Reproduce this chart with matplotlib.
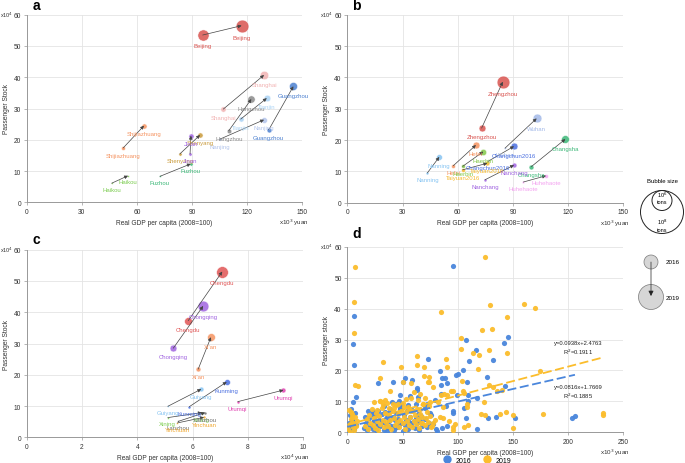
import numpy as np
import matplotlib
matplotlib.use('Agg')
import matplotlib.pyplot as plt
from matplotlib.patches import Circle
from matplotlib.lines import Line2D

plt.rcParams['font.family'] = ['Liberation Sans', 'DejaVu Sans']

# =========================================================
# data: x = real GDP per capita, y = passenger stock (x10^4), f = freight (bubble size)
# =========================================================
cities_a = ['Beijing', 'Shanghai', 'Guangzhou', 'Hangzhou', 'Tianjin', 'Nanjing',
            'Shijiazhuang', 'Shenyang', 'Jinan', 'Fuzhou', 'Haikou']
colors_a = ['#d9534f', '#f2b3b3', '#4a7fcf', '#8a8a8a', '#a9d3f5', '#b3c5ec',
            '#f59360', '#c99a3a', '#a064e0', '#3cb878', '#7ccc50']
x16_a = [95.9, 107.1, 131.9, 110.1, 116.6, 105.3, 52.6, 83.5, 89.0, 72.6, 46.3]
y16_a = [53.5, 29.8, 23.2, 22.9, 26.6, 20.2, 17.4, 15.5, 15.5, 8.3, 6.1]
x19_a = [117.1, 129.3, 145.3, 122.4, 130.8, 129.3, 63.9, 94.4, 89.5, 89.4, 55.2]
y19_a = [56.5, 40.7, 37.1, 33.0, 33.3, 26.4, 24.5, 21.5, 21.3, 12.3, 8.5]
f16_a = [130, 30, 25, 22, 28, 11, 16, 11, 11, 4, 3]
f19_a = [170, 75, 68, 56, 45, 36, 28, 28, 28, 11, 4]

cities_b = ['Zhengzhou', 'Wuhan', 'Changsha', 'Changchun2016', 'Hefei', 'Haerbin',
            'Taiyuan2016', 'Nanchang', 'Nanning', 'Huhehaote']
colors_b = ['#d9534f', '#a3b9e8', '#3cb878', '#4a6fe0', '#f59360', '#84c84a',
            '#f5b82c', '#a064e0', '#86c4f2', '#f3a3f0']
x16_b = [73.0, 85.7, 100.0, 76.5, 57.6, 62.7, 62.7, 74.8, 43.5, 95.7]
y16_b = [23.8, 17.4, 11.5, 13.2, 11.8, 11.6, 10.5, 7.3, 9.5, 6.6]
x19_b = [84.5, 102.9, 118.5, 90.6, 69.9, 73.9, 76.1, 90.6, 50.0, 108.0]
y19_b = [38.6, 26.9, 20.3, 18.0, 18.4, 16.3, 12.6, 12.0, 14.6, 8.6]
f16_b = [49, 4, 25, 4, 16, 16, 16, 9, 9, 6]
f19_b = [169, 81, 64, 49, 49, 42, 25, 25, 36, 16]

cities_c = ['Chengdu', 'Chongqing', "Xi'an", 'Kunming', 'Guiyang', 'Urumqi',
            'Xining', 'Lanzhou', 'Yinchuan']
colors_c = ['#e05555', '#a064e0', '#f59360', '#4a6fe0', '#86c4f2', '#e040b0',
            '#7ccc50', '#707070', '#f0a830']
x16_c = [5.84, 5.30, 6.20, 5.88, 5.10, 7.63, 5.10, 5.48, 5.45]
y16_c = [37.3, 28.5, 21.8, 9.8, 9.9, 11.4, 6.3, 5.1, 4.6]
x19_c = [7.07, 6.38, 6.66, 7.23, 6.31, 9.28, 6.33, 6.45, 6.41]
y19_c = [53.0, 42.0, 32.0, 17.7, 15.4, 15.1, 7.9, 7.9, 6.4]
f16_c = [64, 49, 25, 9, 4, 9, 4, 4, 4]
f19_c = [144, 121, 64, 36, 25, 25, 9, 9, 9]

# panel d: all cities
x_2016 = [95.4, 6.0, 5.4, 6.3, 7.5, 5.4, 145.8, 141.9, 107.2, 116.5, 109.9, 131.6, 72.8,
          105.1, 83.9, 100.5, 98.4, 126.8, 88.5, 86.0, 90.0, 52.5, 58.9, 41.7, 50.7, 27.8,
          143.1, 84.5, 108.7, 62.8, 62.8, 47.4, 56.8, 64.0, 84.8, 99.0, 109.3, 117.4, 109.6,
          105.4, 107.5, 117.1, 127.7, 134.3, 151.6, 203.8, 206.2, 90.0, 85.4, 81.5, 96.0,
          95.7, 89.4, 79.7, 71.8, 74.9, 16.0, 46.8, 48.3, 40.5, 23.5, 24.5,
          1, 2, 3, 4, 2.5, 5, 6, 7, 8, 3.5, 1.5, 4.5,
          15, 17, 18, 20, 21, 22, 23, 24, 25, 26, 27, 28, 29, 30, 31, 32, 33, 34, 35, 36,
          37, 38, 39, 40, 41, 42, 43, 44, 45, 46, 47, 48, 49, 50, 51, 52, 53, 54, 55, 56,
          57, 58, 59, 60, 61, 62, 63, 64, 65, 66, 67, 68, 70, 72, 74, 76, 78, 80,
          19, 33, 44, 26, 37, 55, 62, 48, 57, 42, 30, 65, 70, 28, 36]
y_2016 = [53.7, 37.5, 28.6, 21.9, 11.3, 9.7, 30.7, 29.0, 30.0, 26.7, 23.2, 23.4, 23.8,
          20.3, 19.8, 18.9, 18.6, 18.0, 17.5, 17.5, 15.8, 17.6, 16.8, 16.3, 16.1, 15.8,
          15.0, 15.3, 16.3, 14.4, 13.6, 12.1, 11.6, 11.4, 12.4, 11.9, 12.1, 11.1, 10.2,
          7.8, 4.5, 1.1, 4.7, 4.9, 4.5, 4.5, 5.2, 2.0, 1.4, 0.5, 7.0,
          6.1, 8.6, 10.6, 9.2, 6.4, 5.1, 10.0, 9.2, 9.7, 6.7, 6.5,
          0.5, 1.2, 2.5, 4.0, 5.5, 3.2, 1.0, 6.2, 2.2, 7.5, 3.0, 0.3,
          1.5, 3.0, 0.8, 4.5, 2.1, 6.0, 1.2, 3.5, 5.2, 0.6, 2.8, 7.0, 4.1, 1.9, 5.8, 3.3,
          0.9, 6.6, 2.4, 4.8, 1.4, 3.7, 7.4, 2.0, 5.1, 0.7, 3.9, 6.2, 1.6, 4.4, 2.7, 8.0,
          3.1, 0.4, 5.6, 2.2, 4.0, 6.9, 1.1, 3.4, 5.0, 2.5, 7.2, 3.8, 1.3, 4.6, 2.9, 6.0,
          0.8, 3.6, 5.4, 2.1, 4.2, 1.7, 3.0, 5.5, 2.6, 1.0,
          6.8, 8.5, 9.2, 5.9, 6.4, 8.8, 9.0, 7.6, 3.0, 2.0, 3.5, 4.9, 7.9, 2.2, 0.3]
x_2019 = [6.9, 125.0, 6.3, 6.0, 84.5, 129.2, 160.3, 170.0, 144.9, 102.9, 130.7, 122.3,
          102.6, 114.1, 119.5, 144.3, 128.6, 63.4, 89.4, 32.6, 48.3, 62.8, 69.1, 118.6,
          174.5, 90.6, 74.0, 29.6, 69.7, 72.8, 74.0, 77.9, 50.4, 6.9, 10.0, 93.6, 96.0,
          103.9, 104.5, 105.7, 128.6, 132.0, 135.2, 140.4, 108.0, 108.0, 124.1, 120.8,
          124.7, 138.3, 143.7, 150.3, 177.5, 231.9, 231.9, 150.3, 106.0, 109.6, 95.4, 95.4,
          57.4, 38.6, 29.9, 31.7, 32.3, 41.7, 51.3, 56.2, 59.8, 65.8, 68.8, 74.9, 86.9,
          90.6, 83.9, 75.8, 77.3, 67.3,
          1, 2, 3, 4, 5, 1.5, 6, 7, 8, 9, 2.5, 4.5, 3, 5.5,
          16, 18, 19, 20, 21, 22, 23, 24, 25, 26, 27, 28, 29, 30, 31, 32, 33, 34, 35, 36,
          37, 38, 39, 40, 41, 42, 43, 44, 45, 46, 47, 48, 49, 50, 51, 52, 53, 54, 55, 56,
          57, 58, 59, 60, 61, 62, 63, 64, 65, 66, 67, 68, 69, 70, 71, 72, 73, 75, 77, 79,
          24, 30, 34, 42, 50, 58, 64, 27, 38, 46, 53, 66, 70, 74, 60, 85, 88, 82, 87, 92, 98]
y_2019 = [53.3, 56.8, 42.1, 32.1, 38.8, 41.0, 41.6, 40.3, 37.4, 30.6, 33.4, 33.1,
          26.8, 25.5, 25.0, 25.5, 26.6, 24.8, 23.8, 22.6, 21.2, 21.8, 21.0, 20.4,
          19.9, 21.0, 18.0, 17.6, 18.2, 16.3, 16.1, 14.6, 16.2, 15.4, 15.0, 13.5, 13.3,
          16.7, 13.5, 12.7, 15.2, 14.6, 13.3, 13.7, 9.2, 8.3, 9.9, 5.9,
          5.6, 5.9, 6.7, 5.6, 5.8, 6.4, 5.5, 1.4, 1.6, 2.4, 1.6, 0.9,
          16.0, 13.2, 10.2, 9.7, 8.8, 9.2, 8.1, 7.4, 7.0, 7.5, 9.2, 9.9, 8.1,
          12.2, 4.9, 1.6, 2.9, 2.9,
          1.0, 2.6, 4.2, 6.0, 3.0, 7.2, 0.6, 5.0, 2.0, 3.8, 0.2, 4.9, 6.5, 1.8,
          2.0, 4.3, 1.1, 5.6, 3.0, 7.5, 2.2, 4.7, 1.4, 6.3, 3.6, 0.9, 5.2, 2.8, 7.9, 4.0,
          1.7, 6.1, 3.2, 9.5, 2.0, 5.5, 3.9, 1.2, 6.8, 4.5, 2.5, 8.8, 3.4, 5.8, 1.6, 4.1,
          7.0, 2.9, 5.0, 1.0, 6.5, 3.7, 8.2, 2.3, 4.9, 6.9, 1.8, 3.5, 5.7, 2.6, 7.6, 4.3,
          1.5, 6.0, 3.1, 5.0, 9.0, 2.4, 4.6, 6.6, 3.3, 5.3, 2.0, 4.0,
          9.8, 10.0, 10.3, 8.0, 9.6, 11.2, 10.5, 7.2, 7.8, 9.1, 10.8, 12.3, 11.0, 8.6,
          12.9, 12.1, 12.5, 9.8, 4.7, 3.6, 2.8]

fit_2016 = (0.0816, 1.7669, 0.1885)   # slope, intercept, R^2
fit_2019 = (0.0938, 2.4763, 0.1911)

BLUE = '#4a86dc'
GOLD = '#fbbd2c'

# =========================================================
# layout helpers
# =========================================================
W, H = 685, 464
fig = plt.figure(figsize=(6.85, 4.64), dpi=100)


def px_axes(x0, y0, x1, y1):
    return fig.add_axes([x0 / W, 1 - y1 / H, (x1 - x0) / W, (y1 - y0) / H])


def style_axes(ax, xmax, xstep, xunit, ylabel='Passenger Stock'):
    ax.set_xlim(0, xmax)
    ax.set_ylim(0, 60)
    ax.set_xticks(np.arange(0, xmax + xstep / 2, xstep))
    ax.set_yticks(np.arange(0, 61, 10))
    ax.grid(True, color='#e4e4e4', lw=0.6)
    ax.set_axisbelow(True)
    for s in ['top', 'right']:
        ax.spines[s].set_visible(False)
    for s in ['left', 'bottom']:
        ax.spines[s].set_color('#999999')
        ax.spines[s].set_linewidth(0.7)
    ax.tick_params(labelsize=4.8, length=2, width=0.5, color='#999999', pad=2,
                   labelcolor='#333333')
    ax.set_xlabel('Real GDP per capita (2008=100)', fontsize=4.8, labelpad=3, color='#333333')
    ax.set_ylabel(ylabel, fontsize=4.8, labelpad=3, color='#333333')
    ax.text(-0.05, 1.0, 'x10$^4$', transform=ax.transAxes, fontsize=4, ha='right',
            va='center', color='#333333')
    ax.text(0.97, -0.105, xunit, transform=ax.transAxes, fontsize=4.5, ha='center',
            va='center', color='#333333')


def draw_bubbles(ax, names, cols, x16, y16, f16, x19, y19, f19):
    k = 0.5
    for i in range(len(names)):
        ax.annotate('', xy=(x19[i], y19[i]), xytext=(x16[i], y16[i]),
                    arrowprops=dict(arrowstyle='-|>,head_length=0.2,head_width=0.1',
                                    color='#444444', lw=0.5, shrinkA=0, shrinkB=0),
                    zorder=4)
        for xx, yy, ff in [(x16[i], y16[i], f16[i]), (x19[i], y19[i], f19[i])]:
            s = ff * k
            ax.scatter(xx, yy, s=s, color=cols[i], alpha=0.85, edgecolors='white',
                       linewidths=0.4, zorder=3)
            r = np.sqrt(s) / 2
            ax.annotate(names[i], (xx, yy), xytext=(0, -(r + 2)), textcoords='offset points',
                        ha='center', va='top', fontsize=4.3, color=cols[i], zorder=5)


# =========================================================
# panels a, b, c
# =========================================================
ax_a = px_axes(26.7, 15.7, 302, 203.3)
style_axes(ax_a, 150, 30, 'x10$^3$ yuan')
draw_bubbles(ax_a, cities_a, colors_a, x16_a, y16_a, f16_a, x19_a, y19_a, f19_a)

ax_b = px_axes(347.3, 15.7, 623.3, 203.7)
style_axes(ax_b, 150, 30, 'x10$^3$ yuan')
draw_bubbles(ax_b, cities_b, colors_b, x16_b, y16_b, f16_b, x19_b, y19_b, f19_b)

ax_c = px_axes(26.7, 250.7, 303.3, 438.3)
style_axes(ax_c, 10, 2, 'x10$^4$ yuan')
draw_bubbles(ax_c, cities_c, colors_c, x16_c, y16_c, f16_c, x19_c, y19_c, f19_c)

# =========================================================
# panel d
# =========================================================
ax_d = px_axes(347.3, 247.7, 623.3, 433.3)
style_axes(ax_d, 250, 50, 'x10$^3$ yuan', ylabel='Passenger stock')
ax_d.scatter(x_2016, y_2016, s=14, color=BLUE, alpha=0.95, linewidths=0, zorder=3)
ax_d.scatter(x_2019, y_2019, s=14, color=GOLD, alpha=0.95, linewidths=0, zorder=3)

for xs, fit, c in [(x_2016, fit_2016, BLUE), (x_2019, fit_2019, GOLD)]:
    xl = np.array([0, max(xs)])
    ax_d.plot(xl, fit[0] * xl + fit[1], color=c, lw=1.3, ls=(0, (5, 2)), zorder=4)

ax_d.text(209, 27.2, f'y={fit_2019[0]}x+{fit_2019[1]}\nR$^2$={fit_2019[2]}', fontsize=4.2,
          ha='center', va='center', linespacing=1.2, color='#222222')
ax_d.text(209, 13.1, f'y={fit_2016[0]}x+{fit_2016[1]}\nR$^2$={fit_2016[2]}', fontsize=4.2,
          ha='center', va='center', linespacing=1.2, color='#222222')

handles = [Line2D([], [], marker='o', ls='', color=BLUE, markersize=5),
           Line2D([], [], marker='o', ls='', color=GOLD, markersize=5)]
ax_d.legend(handles, ['2016', '2019'], ncol=2, loc='center', bbox_to_anchor=(0.466, -0.15),
            frameon=False, fontsize=5, handletextpad=0.3, columnspacing=1.2)

# panel letters
for txt, x, y in [('a', 36, 6), ('b', 356, 6), ('c', 36, 240), ('d', 357, 234)]:
    fig.text(x / W, 1 - y / H, txt, fontsize=10, fontweight='bold', ha='center', va='center')

# =========================================================
# legend on the right (pixel coordinates)
# =========================================================
lg = px_axes(628, 170, 685, 320)
lg.set_xlim(628, 685)
lg.set_ylim(320, 170)
lg.axis('off')
lg.text(662, 181, 'Bubble size', fontsize=4.3, ha='center', va='center')
outer = Circle((662, 213), 21.5, facecolor='none', edgecolor='#222222', lw=0.7)
inner = Circle((662, 201.5), 10, facecolor='none', edgecolor='#222222', lw=0.7)
lg.add_patch(outer)
lg.add_patch(inner)
lg.text(662, 195.5, '10$^6$', fontsize=4, ha='center', va='center')
lg.text(662, 202.5, 'tons', fontsize=4, ha='center', va='center')
lg.text(662, 222, '10$^8$', fontsize=4, ha='center', va='center')
lg.text(662, 230, 'tons', fontsize=4, ha='center', va='center')
lg.add_patch(Circle((651, 263), 7, fc='#d6d6d6', ec='#777777', lw=0.5))
lg.add_patch(Circle((651, 298), 12.5, fc='#d6d6d6', ec='#777777', lw=0.5))
lg.annotate('', xy=(651, 297), xytext=(651, 263),
            arrowprops=dict(arrowstyle='-|>,head_length=0.3,head_width=0.15',
                            color='#222222', lw=0.5, shrinkA=0, shrinkB=0))
lg.text(673, 263, '2016', fontsize=4.5, ha='center', va='center')
lg.text(673, 299, '2019', fontsize=4.5, ha='center', va='center')

fig.savefig('out.png', dpi=100)
